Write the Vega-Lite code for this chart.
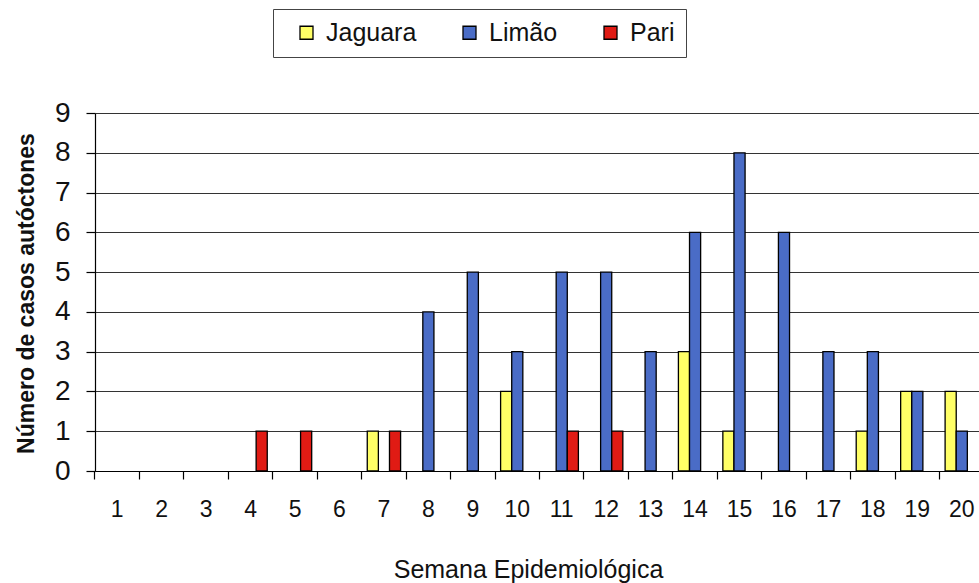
{
  "$schema": "https://vega.github.io/schema/vega-lite/v6.json",
  "autosize": {"type": "none"},
  "width": 889,
  "height": 358,
  "padding": {"left": 95, "top": 113, "right": -5, "bottom": 112},
  "background": "white",
  "data": {
    "values": [
      {"semana": 1, "bairro": "Jaguara", "casos": 0}, {"semana": 1, "bairro": "Limão", "casos": 0}, {"semana": 1, "bairro": "Pari", "casos": 0},
      {"semana": 2, "bairro": "Jaguara", "casos": 0}, {"semana": 2, "bairro": "Limão", "casos": 0}, {"semana": 2, "bairro": "Pari", "casos": 0},
      {"semana": 3, "bairro": "Jaguara", "casos": 0}, {"semana": 3, "bairro": "Limão", "casos": 0}, {"semana": 3, "bairro": "Pari", "casos": 0},
      {"semana": 4, "bairro": "Jaguara", "casos": 0}, {"semana": 4, "bairro": "Limão", "casos": 0}, {"semana": 4, "bairro": "Pari", "casos": 1},
      {"semana": 5, "bairro": "Jaguara", "casos": 0}, {"semana": 5, "bairro": "Limão", "casos": 0}, {"semana": 5, "bairro": "Pari", "casos": 1},
      {"semana": 6, "bairro": "Jaguara", "casos": 0}, {"semana": 6, "bairro": "Limão", "casos": 0}, {"semana": 6, "bairro": "Pari", "casos": 0},
      {"semana": 7, "bairro": "Jaguara", "casos": 1}, {"semana": 7, "bairro": "Limão", "casos": 0}, {"semana": 7, "bairro": "Pari", "casos": 1},
      {"semana": 8, "bairro": "Jaguara", "casos": 0}, {"semana": 8, "bairro": "Limão", "casos": 4}, {"semana": 8, "bairro": "Pari", "casos": 0},
      {"semana": 9, "bairro": "Jaguara", "casos": 0}, {"semana": 9, "bairro": "Limão", "casos": 5}, {"semana": 9, "bairro": "Pari", "casos": 0},
      {"semana": 10, "bairro": "Jaguara", "casos": 2}, {"semana": 10, "bairro": "Limão", "casos": 3}, {"semana": 10, "bairro": "Pari", "casos": 0},
      {"semana": 11, "bairro": "Jaguara", "casos": 0}, {"semana": 11, "bairro": "Limão", "casos": 5}, {"semana": 11, "bairro": "Pari", "casos": 1},
      {"semana": 12, "bairro": "Jaguara", "casos": 0}, {"semana": 12, "bairro": "Limão", "casos": 5}, {"semana": 12, "bairro": "Pari", "casos": 1},
      {"semana": 13, "bairro": "Jaguara", "casos": 0}, {"semana": 13, "bairro": "Limão", "casos": 3}, {"semana": 13, "bairro": "Pari", "casos": 0},
      {"semana": 14, "bairro": "Jaguara", "casos": 3}, {"semana": 14, "bairro": "Limão", "casos": 6}, {"semana": 14, "bairro": "Pari", "casos": 0},
      {"semana": 15, "bairro": "Jaguara", "casos": 1}, {"semana": 15, "bairro": "Limão", "casos": 8}, {"semana": 15, "bairro": "Pari", "casos": 0},
      {"semana": 16, "bairro": "Jaguara", "casos": 0}, {"semana": 16, "bairro": "Limão", "casos": 6}, {"semana": 16, "bairro": "Pari", "casos": 0},
      {"semana": 17, "bairro": "Jaguara", "casos": 0}, {"semana": 17, "bairro": "Limão", "casos": 3}, {"semana": 17, "bairro": "Pari", "casos": 0},
      {"semana": 18, "bairro": "Jaguara", "casos": 1}, {"semana": 18, "bairro": "Limão", "casos": 3}, {"semana": 18, "bairro": "Pari", "casos": 0},
      {"semana": 19, "bairro": "Jaguara", "casos": 2}, {"semana": 19, "bairro": "Limão", "casos": 2}, {"semana": 19, "bairro": "Pari", "casos": 0},
      {"semana": 20, "bairro": "Jaguara", "casos": 2}, {"semana": 20, "bairro": "Limão", "casos": 1}, {"semana": 20, "bairro": "Pari", "casos": 0}
    ]
  },
  "transform": [{"filter": "datum.casos > 0"}],
  "mark": {"type": "bar", "stroke": "black", "strokeWidth": 1.3, "strokeOpacity": 1},
  "encoding": {
    "x": {
      "field": "semana",
      "type": "ordinal",
      "scale": {
        "domain": [1, 2, 3, 4, 5, 6, 7, 8, 9, 10, 11, 12, 13, 14, 15, 16, 17, 18, 19, 20],
        "paddingInner": 0.25,
        "paddingOuter": 0.125
      },
      "axis": {
        "title": "Semana Epidemiológica",
        "titleFontSize": 25,
        "titleFontWeight": "normal",
        "titleX": 433,
        "titleY": 106,
        "titleBaseline": "alphabetic",
        "titleAnchor": null,
        "labelAngle": 0,
        "labelFontSize": 23,
        "labelPadding": 19,
        "tickSize": 8,
        "bandPosition": -0.16667,
        "grid": false
      }
    },
    "xOffset": {
      "field": "bairro",
      "type": "nominal",
      "scale": {"domain": ["Jaguara", "Limão", "Pari"], "paddingInner": 0, "paddingOuter": 0}
    },
    "y": {
      "field": "casos",
      "type": "quantitative",
      "scale": {"domain": [0, 9], "nice": false},
      "axis": {
        "title": "Número de casos autóctones",
        "titleFontSize": 23,
        "titleFontWeight": "bold",
        "titleX": -62,
        "titleY": 180,
        "titleAngle": -90,
        "titleBaseline": "alphabetic",
        "titleAnchor": null,
        "values": [0, 1, 2, 3, 4, 5, 6, 7, 8, 9],
        "labelFontSize": 28,
        "labelPadding": 16,
        "tickSize": 9,
        "grid": true
      }
    },
    "color": {
      "field": "bairro",
      "type": "nominal",
      "scale": {"domain": ["Jaguara", "Limão", "Pari"], "range": ["#ffff66", "#4a6cc6", "#e01b14"]},
      "legend": {
        "title": null,
        "orient": "none",
        "legendX": 178,
        "legendY": -104,
        "direction": "horizontal",
        "columns": 3,
        "padding": 11,
        "strokeColor": "#444",
        "symbolType": "square",
        "symbolSize": 169,
        "symbolStrokeColor": "black",
        "symbolStrokeWidth": 1.3,
        "symbolOpacity": 1,
        "symbolOffset": 10,
        "labelFontSize": 25,
        "labelOffset": 7,
        "columnPadding": 30
      }
    }
  },
  "config": {
    "font": "Liberation Sans",
    "view": {"stroke": null},
    "axis": {
      "domainColor": "black",
      "domainWidth": 1.2,
      "tickColor": "black",
      "tickWidth": 1.2,
      "gridColor": "#333",
      "gridWidth": 1,
      "gridOpacity": 1,
      "labelColor": "#111",
      "titleColor": "#111",
      "labelFont": "Liberation Sans",
      "titleFont": "Liberation Sans"
    },
    "legend": {"labelColor": "#111", "labelFont": "Liberation Sans"}
  }
}
